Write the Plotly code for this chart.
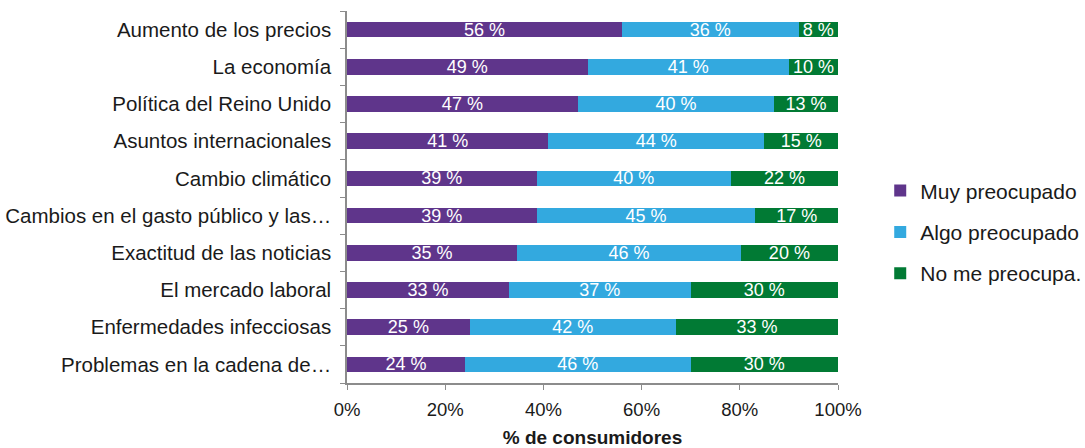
import plotly.graph_objects as go

categories = [
    "Aumento de los precios",
    "La economía",
    "Política del Reino Unido",
    "Asuntos internacionales",
    "Cambio climático",
    "Cambios en el gasto público y las…",
    "Exactitud de las noticias",
    "El mercado laboral",
    "Enfermedades infecciosas",
    "Problemas en la cadena de…",
]
muy = [56, 49, 47, 41, 39, 39, 35, 33, 25, 24]
algo = [36, 41, 40, 44, 40, 45, 46, 37, 42, 46]
no_me = [8, 10, 13, 15, 22, 17, 20, 30, 33, 30]
x_ticks = [0, 20, 40, 60, 80, 100]
x_tick_labels = ["0%", "20%", "40%", "60%", "80%", "100%"]

series = [
    ("Muy preocupado", muy, "#5F358B"),
    ("Algo preocupado", algo, "#33A9DF"),
    ("No me preocupa.", no_me, "#017A34"),
]

FONT = "Liberation Sans, Arial, sans-serif"

fig = go.Figure()
for i, (name, vals, color) in enumerate(series):
    fig.add_trace(go.Bar(
        name=name,
        y=categories,
        x=vals,
        orientation="h",
        marker=dict(color=color, line=dict(width=0)),
        width=0.42,
        text=[f"{v} %" for v in vals],
        textposition="inside",
        insidetextanchor="middle",
        textangle=0,
        constraintext="none",
        textfont=dict(color="white", size=18, family=FONT),
        legendgroup=f"g{i}",
        hoverinfo="skip",
    ))

fig.update_layout(
    barmode="stack",
    barnorm="percent",
    width=1085,
    height=448,
    margin=dict(l=347, r=247, t=11, b=65, autoexpand=False),
    paper_bgcolor="white",
    plot_bgcolor="white",
    font=dict(family=FONT, size=20, color="#1a1a1a"),
    showlegend=True,
    legend=dict(
        x=1.086, y=0.406, xanchor="left", yanchor="middle",
        font=dict(size=21, color="#1a1a1a"),
        tracegroupgap=11,
        itemwidth=30,
        bgcolor="rgba(0,0,0,0)",
    ),
    xaxis=dict(
        range=[0, 100],
        tickvals=x_ticks,
        ticktext=x_tick_labels,
        showgrid=False,
        zeroline=False,
        showline=True,
        linecolor="#8c8c8c",
        linewidth=1.5,
        ticks="outside",
        ticklen=5,
        tickcolor="#8c8c8c",
        ticklabelstandoff=4,
        tickfont=dict(size=18.5, color="#1a1a1a"),
        title=dict(text="<b>% de consumidores</b>", font=dict(size=19, color="#1a1a1a"), standoff=12),
    ),
    yaxis=dict(
        categoryorder="array",
        categoryarray=categories[::-1],
        showgrid=False,
        zeroline=False,
        showline=True,
        linecolor="#8c8c8c",
        linewidth=1.5,
        ticks="outside",
        tickson="boundaries",
        ticklen=5,
        tickcolor="#8c8c8c",
        ticklabelstandoff=10,
        tickfont=dict(size=20.5, color="#1a1a1a"),
    ),
)

fig.write_html("out.html")
